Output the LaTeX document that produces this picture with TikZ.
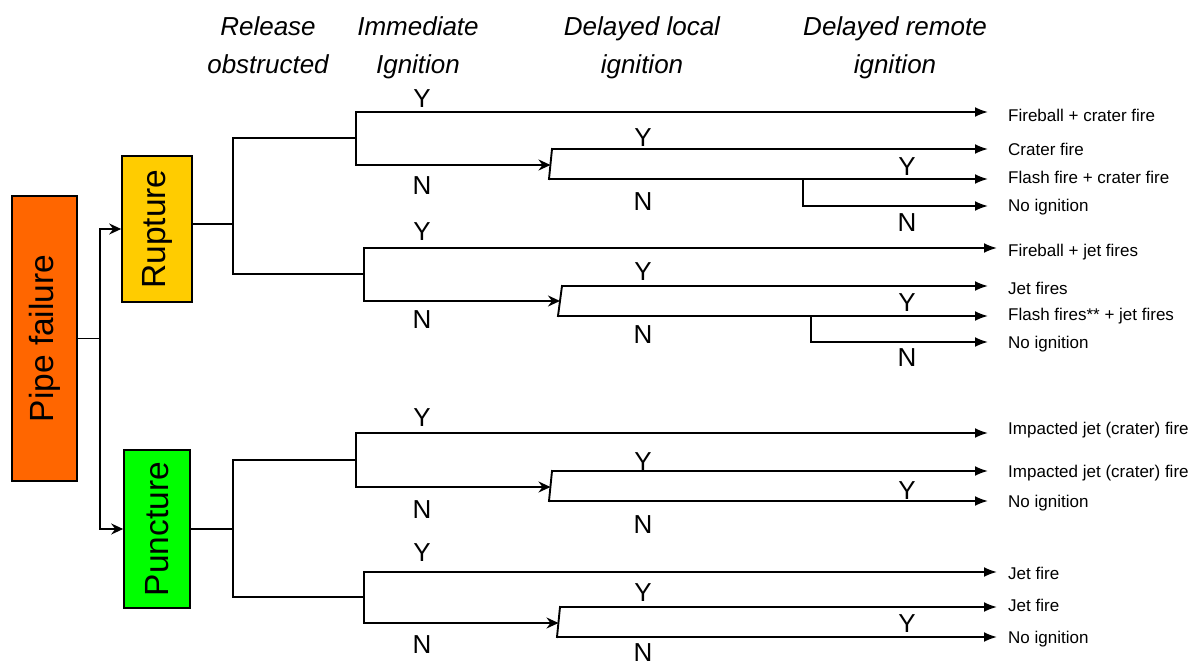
\documentclass[tikz,border=0pt]{standalone}
\usepackage{fontspec}
\setmainfont{Liberation Sans}
\usetikzlibrary{arrows.meta}
\definecolor{pforange}{RGB}{255,102,0}
\definecolor{rupyellow}{RGB}{255,204,0}
\definecolor{pungreen}{RGB}{0,255,0}
\begin{document}
\begin{tikzpicture}[x=1pt,y=-1pt,
  box/.style={draw, line width=1.6pt, inner sep=0pt, font=\fontsize{33.5}{40}\selectfont},
  br/.style={line width=1.9pt, line cap=rect},
  tip/.style={line width=1.9pt, -{Stealth[length=12pt,width=11pt,inset=4pt]}},
  endarr/.style={line width=1.9pt, -{Latex[length=13pt,width=10pt]}},
  yn/.style={font=\fontsize{26}{30}\selectfont, inner sep=0pt},
  outc/.style={anchor=west, font=\fontsize{17}{20}\selectfont, inner sep=0pt},
  head/.style={font=\itshape\fontsize{26}{38}\selectfont, align=center, anchor=north, inner sep=0pt}]
\useasboundingbox (0,0) rectangle (1192,666);

% headers
\node[head] (h1) at (268,16) {Release\\obstructed};
\node[head] (h2) at (418,16) {Immediate\\Ignition};
\node[head] (h3) at (642,16) {Delayed local\\ignition};
\node[head] (h4) at (895,16) {Delayed remote\\ignition};

% boxes
\node[box, fill=pforange, minimum width=65pt, minimum height=285pt] (pf) at (44.5,338.5) {\rotatebox{90}{Pipe failure}};
\node[box, fill=rupyellow, minimum width=70pt, minimum height=146pt] (rup) at (157,229) {\rotatebox{90}{Rupture}};
\node[box, fill=pungreen, minimum width=66pt, minimum height=158pt] (pun) at (157,529) {\rotatebox{90}{Puncture}};

\draw[tip] (pf.east) -- ++(22,0) |- (rup.west);
\draw[tip] (pf.east) -- ++(22,0) |- (pun.west);

% outcome labels
\node[outc] (o1) at (1008,115) {Fireball + crater fire};
\node[outc] (o2) at (1008,149) {Crater fire};
\node[outc] (o3) at (1008,177) {Flash fire + crater fire};
\node[outc] (o4) at (1008,207) {No ignition};
\node[outc] (o5) at (1008,252) {Fireball + jet fires};
\node[outc] (o6) at (1008,288) {Jet fires};
\node[outc] (o7) at (1008,316) {Flash fires** + jet fires};
\node[outc] (o8) at (1008,344) {No ignition};
\node[outc] (o9) at (1008,430) {Impacted jet (crater) fire};
\node[outc] (o10) at (1008,473) {Impacted jet (crater) fire};
\node[outc] (o11) at (1008,503) {No ignition};
\node[outc] (o12) at (1008,573) {Jet fire};
\node[outc] (o13) at (1008,605) {Jet fire};
\node[outc] (o14) at (1008,639) {No ignition};

% ---------- Rupture ----------
\coordinate (rj) at (233,224);
\coordinate (rA) at (356,138);
\coordinate (rB) at (364,274);
\draw[br] (rup.east |- rj) -- (rj);
\draw[br] (rA) -- (rA -| rj) -- (rB -| rj) -- (rB);

% group A
\coordinate (aY) at (356,112);
\coordinate (aN) at (356,165);
\coordinate (dAin) at (550.5,165);
\coordinate (dAY) at (552,149);
\coordinate (dAN) at (549,179);
\coordinate (rmA) at (803,179);
\coordinate (rmAN) at (803,206);
\draw[br] (aY) -- (aN);
\draw[endarr, shorten >=20pt] (aY) -- (aY -| o1.west);
\draw[tip] (aN) -- (dAin);
\draw[br] (dAY) -- (dAN);
\draw[endarr, shorten >=20pt] (dAY) -- (dAY -| o2.west);
\draw[endarr, shorten >=20pt] (dAN) -- (dAN -| o3.west);
\draw[br] (rmA) -- (rmAN);
\draw[endarr, shorten >=20pt] (rmAN) -- (rmAN -| o4.west);
\node[yn] (yA1) at (422,99) {Y};
\node[yn] (nA1) at (422,186) {N};
\node[yn] (yA2) at (643,138) {Y};
\node[yn] (nA2) at (643,202) {N};
\node[yn] (yA3) at (907,167) {Y};
\node[yn] (nA3) at (907,223) {N};

% group B
\coordinate (bY) at (364,248);
\coordinate (bN) at (364,301);
\coordinate (dBin) at (560,301);
\coordinate (dBY) at (562,286);
\coordinate (dBN) at (558,316);
\coordinate (rmB) at (811,316);
\coordinate (rmBN) at (811,342);
\draw[br] (bY) -- (bN);
\draw[endarr, shorten >=11pt] (bY) -- (bY -| o5.west);
\draw[tip] (bN) -- (dBin);
\draw[br] (dBY) -- (dBN);
\draw[endarr, shorten >=20pt] (dBY) -- (dBY -| o6.west);
\draw[endarr, shorten >=20pt] (dBN) -- (dBN -| o7.west);
\draw[br] (rmB) -- (rmBN);
\draw[endarr, shorten >=20pt] (rmBN) -- (rmBN -| o8.west);
\node[yn] (yB1) at (422,232) {Y};
\node[yn] (nB1) at (422,320) {N};
\node[yn] (yB2) at (643,272) {Y};
\node[yn] (nB2) at (643,335) {N};
\node[yn] (yB3) at (907,303) {Y};
\node[yn] (nB3) at (907,358) {N};

% ---------- Puncture ----------
\coordinate (pj) at (233,529);
\coordinate (pC) at (356,460);
\coordinate (pD) at (364,597);
\draw[br] (pun.east) -- (pj);
\draw[br] (pC) -- (pC -| pj) -- (pD -| pj) -- (pD);

% group C
\coordinate (cY) at (356,433);
\coordinate (cN) at (356,487);
\coordinate (dCin) at (550.5,487);
\coordinate (dCY) at (552,471);
\coordinate (dCN) at (549,501);
\draw[br] (cY) -- (cN);
\draw[endarr, shorten >=20pt] (cY) -- (cY -| o9.west);
\draw[tip] (cN) -- (dCin);
\draw[br] (dCY) -- (dCN);
\draw[endarr, shorten >=20pt] (dCY) -- (dCY -| o10.west);
\draw[endarr, shorten >=20pt] (dCN) -- (dCN -| o11.west);
\node[yn] (yC1) at (422,418) {Y};
\node[yn] (nC1) at (422,510) {N};
\node[yn] (yC2) at (643,462) {Y};
\node[yn] (nC2) at (643,525) {N};
\node[yn] (yC3) at (907,491) {Y};

% group D
\coordinate (dY) at (364,572);
\coordinate (dN) at (364,623);
\coordinate (dDin) at (558.5,623);
\coordinate (dDY) at (560,607);
\coordinate (dDN) at (557,637);
\draw[br] (dY) -- (dN);
\draw[endarr, shorten >=11pt] (dY) -- (dY -| o12.west);
\draw[tip] (dN) -- (dDin);
\draw[br] (dDY) -- (dDN);
\draw[endarr, shorten >=11pt] (dDY) -- (dDY -| o13.west);
\draw[endarr, shorten >=11pt] (dDN) -- (dDN -| o14.west);
\node[yn] (yD1) at (422,553) {Y};
\node[yn] (nD1) at (422,645) {N};
\node[yn] (yD2) at (643,593) {Y};
\node[yn] (nD2) at (643,653) {N};
\node[yn] (yD3) at (907,624) {Y};
\end{tikzpicture}
\end{document}
